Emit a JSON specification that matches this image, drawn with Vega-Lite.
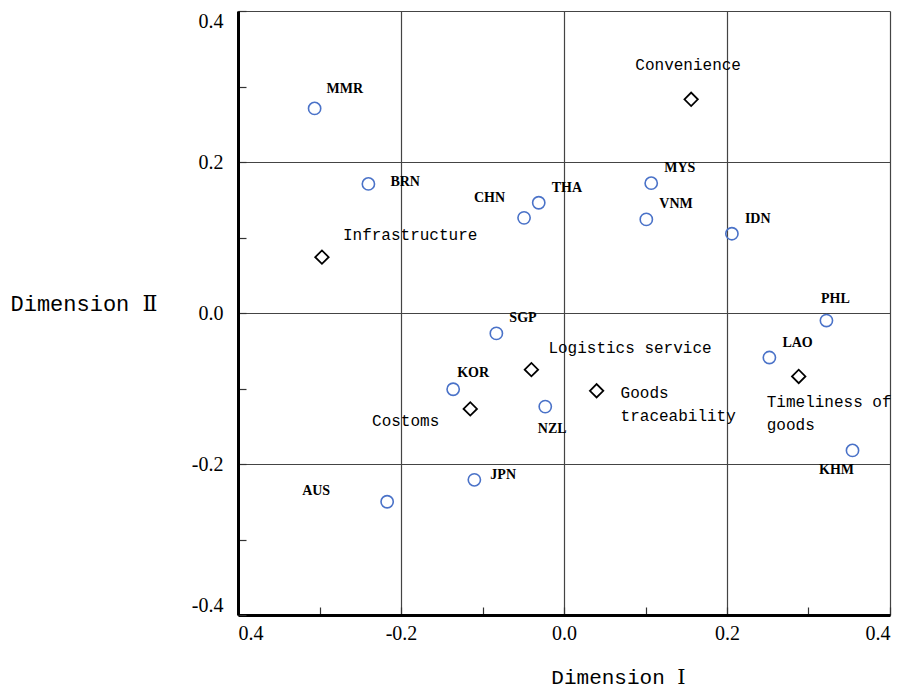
{
  "$schema": "https://vega.github.io/schema/vega-lite/v6.json",
  "width": 652,
  "height": 604,
  "autosize": {"type": "none"},
  "padding": {"left": 238, "top": 11, "right": 10, "bottom": 76},
  "background": "white",
  "config": {"view": {"stroke": null}},
  "data": {
    "values": [
      {"name": "MMR", "type": "country", "label": "MMR", "x": -0.306, "y": 0.271},
      {"name": "BRN", "type": "country", "label": "BRN", "x": -0.240, "y": 0.171},
      {"name": "CHN", "type": "country", "label": "CHN", "x": -0.049, "y": 0.126},
      {"name": "THA", "type": "country", "label": "THA", "x": -0.031, "y": 0.146},
      {"name": "MYS", "type": "country", "label": "MYS", "x": 0.107, "y": 0.172},
      {"name": "VNM", "type": "country", "label": "VNM", "x": 0.101, "y": 0.124},
      {"name": "IDN", "type": "country", "label": "IDN", "x": 0.206, "y": 0.105},
      {"name": "PHL", "type": "country", "label": "PHL", "x": 0.322, "y": -0.010},
      {"name": "LAO", "type": "country", "label": "LAO", "x": 0.252, "y": -0.059},
      {"name": "KHM", "type": "country", "label": "KHM", "x": 0.354, "y": -0.182},
      {"name": "SGP", "type": "country", "label": "SGP", "x": -0.083, "y": -0.027},
      {"name": "KOR", "type": "country", "label": "KOR", "x": -0.136, "y": -0.101},
      {"name": "NZL", "type": "country", "label": "NZL", "x": -0.023, "y": -0.124},
      {"name": "JPN", "type": "country", "label": "JPN", "x": -0.110, "y": -0.221},
      {"name": "AUS", "type": "country", "label": "AUS", "x": -0.217, "y": -0.250},
      {"name": "Convenience", "type": "factor", "label": "Convenience", "x": 0.156, "y": 0.283},
      {"name": "Infrastructure", "type": "factor", "label": "Infrastructure", "x": -0.297, "y": 0.074},
      {"name": "Logistics service", "type": "factor", "label": "Logistics service", "x": -0.040, "y": -0.075},
      {"name": "Costoms", "type": "factor", "label": "Costoms", "x": -0.115, "y": -0.127},
      {"name": "Goods traceability", "type": "factor", "label": "Goods\ntraceability", "x": 0.040, "y": -0.103},
      {"name": "Timeliness of goods", "type": "factor", "label": "Timeliness of\ngoods", "x": 0.288, "y": -0.084}
    ]
  },
  "encoding": {
    "x": {
      "field": "x", "type": "quantitative",
      "scale": {"domain": [-0.4, 0.4], "nice": false, "zero": false},
      "axis": {
        "values": [-0.4, -0.3, -0.2, -0.1, 0, 0.1, 0.2, 0.3, 0.4],
        "title": "Dimension Ⅰ",
        "titleFont": "Liberation Mono, DejaVu Serif, Noto Sans CJK SC",
        "titleFontSize": 21, "titleFontWeight": "normal", "titleColor": "black",
        "titleX": 380, "titleY": 68, "titleBaseline": "alphabetic", "titleAlign": "center",
        "labelExpr": "abs(round(datum.value*10)) % 2 == 1 ? '' : (datum.value < -0.35 ? '0.4' : (datum.value < -0.05 ? '-' + format(-datum.value, '.1f') : format(abs(datum.value), '.1f')))",
        "labelFont": "Liberation Serif", "labelFontSize": 20, "labelColor": "black",
        "labelPadding": 16, "labelFlush": true, "labelOverlap": false,
        "domain": true, "domainColor": "black", "domainWidth": 3,
        "ticks": true, "tickSize": -8, "tickColor": "#333", "tickWidth": 1.2,
        "grid": true, "gridColor": "#444", "gridWidth": 1.2,
        "gridOpacity": {"condition": {"test": "abs(round(datum.value*10)) % 2 == 1", "value": 0}, "value": 1}
      }
    },
    "y": {
      "field": "y", "type": "quantitative",
      "scale": {"domain": [-0.4, 0.4], "nice": false, "zero": false},
      "axis": {
        "values": [-0.4, -0.3, -0.2, -0.1, 0, 0.1, 0.2, 0.3, 0.4],
        "title": "Dimension Ⅱ",
        "titleFont": "Liberation Mono, DejaVu Serif, Noto Sans CJK SC",
        "titleFontSize": 22, "titleFontWeight": "normal", "titleColor": "black",
        "titleAngle": 0, "titleX": -228, "titleY": 292, "titleBaseline": "middle", "titleAlign": "left",
        "labelExpr": "abs(round(datum.value*10)) % 2 == 1 ? '' : (datum.value < -0.05 ? '-' + format(-datum.value, '.1f') : format(abs(datum.value), '.1f'))",
        "labelFont": "Liberation Serif", "labelFontSize": 20, "labelColor": "black",
        "labelPadding": 23, "labelFlush": true, "labelOverlap": false,
        "domain": true, "domainColor": "black", "domainWidth": 3,
        "ticks": true, "tickSize": -8, "tickColor": "#333", "tickWidth": 1.2,
        "grid": true, "gridColor": "#444", "gridWidth": 1.2,
        "gridOpacity": {"condition": {"test": "abs(round(datum.value*10)) % 2 == 1", "value": 0}, "value": 1}
      }
    }
  },
  "layer": [
    {
      "transform": [{"filter": "datum.type == 'country'"}],
      "mark": {"type": "point", "shape": "circle", "filled": false, "stroke": "#4A72C8", "strokeWidth": 1.6, "size": 150, "opacity": 1}
    },
    {
      "transform": [{"filter": "datum.type == 'factor'"}],
      "mark": {"type": "point", "shape": "diamond", "filled": false, "stroke": "black", "strokeWidth": 1.8, "size": 180, "opacity": 1}
    },
    {
      "transform": [{"filter": {"field": "name", "oneOf": ["THA", "MYS", "VNM", "IDN", "LAO", "SGP"]}}],
      "mark": {"type": "text", "align": "left", "baseline": "middle", "dx": 13, "dy": -15, "font": "Liberation Serif", "fontWeight": "bold", "fontSize": 14, "color": "black"},
      "encoding": {"text": {"field": "label"}}
    },
    {
      "transform": [{"filter": {"field": "name", "oneOf": ["MMR"]}}],
      "mark": {"type": "text", "align": "left", "baseline": "middle", "dx": 12, "dy": -19, "font": "Liberation Serif", "fontWeight": "bold", "fontSize": 14, "color": "black"},
      "encoding": {"text": {"field": "label"}}
    },
    {
      "transform": [{"filter": {"field": "name", "oneOf": ["BRN"]}}],
      "mark": {"type": "text", "align": "left", "baseline": "middle", "dx": 22, "dy": -2, "font": "Liberation Serif", "fontWeight": "bold", "fontSize": 14, "color": "black"},
      "encoding": {"text": {"field": "label"}}
    },
    {
      "transform": [{"filter": {"field": "name", "oneOf": ["CHN"]}}],
      "mark": {"type": "text", "align": "right", "baseline": "middle", "dx": -19, "dy": -20, "font": "Liberation Serif", "fontWeight": "bold", "fontSize": 14, "color": "black"},
      "encoding": {"text": {"field": "label"}}
    },
    {
      "transform": [{"filter": {"field": "name", "oneOf": ["PHL"]}}],
      "mark": {"type": "text", "align": "center", "baseline": "middle", "dx": 9, "dy": -22, "font": "Liberation Serif", "fontWeight": "bold", "fontSize": 14, "color": "black"},
      "encoding": {"text": {"field": "label"}}
    },
    {
      "transform": [{"filter": {"field": "name", "oneOf": ["KHM"]}}],
      "mark": {"type": "text", "align": "center", "baseline": "middle", "dx": -16, "dy": 20, "font": "Liberation Serif", "fontWeight": "bold", "fontSize": 14, "color": "black"},
      "encoding": {"text": {"field": "label"}}
    },
    {
      "transform": [{"filter": {"field": "name", "oneOf": ["KOR"]}}],
      "mark": {"type": "text", "align": "left", "baseline": "middle", "dx": 4, "dy": -16, "font": "Liberation Serif", "fontWeight": "bold", "fontSize": 14, "color": "black"},
      "encoding": {"text": {"field": "label"}}
    },
    {
      "transform": [{"filter": {"field": "name", "oneOf": ["NZL"]}}],
      "mark": {"type": "text", "align": "center", "baseline": "middle", "dx": 7, "dy": 22, "font": "Liberation Serif", "fontWeight": "bold", "fontSize": 14, "color": "black"},
      "encoding": {"text": {"field": "label"}}
    },
    {
      "transform": [{"filter": {"field": "name", "oneOf": ["JPN"]}}],
      "mark": {"type": "text", "align": "left", "baseline": "middle", "dx": 16, "dy": -5, "font": "Liberation Serif", "fontWeight": "bold", "fontSize": 14, "color": "black"},
      "encoding": {"text": {"field": "label"}}
    },
    {
      "transform": [{"filter": {"field": "name", "oneOf": ["AUS"]}}],
      "mark": {"type": "text", "align": "right", "baseline": "middle", "dx": -57, "dy": -11, "font": "Liberation Serif", "fontWeight": "bold", "fontSize": 14, "color": "black"},
      "encoding": {"text": {"field": "label"}}
    },
    {
      "transform": [{"filter": {"field": "name", "oneOf": ["Convenience"]}}],
      "mark": {"type": "text", "align": "center", "baseline": "middle", "dx": -3, "dy": -34, "font": "Liberation Mono", "fontSize": 16, "color": "black"},
      "encoding": {"text": {"field": "label"}}
    },
    {
      "transform": [{"filter": {"field": "name", "oneOf": ["Infrastructure"]}}],
      "mark": {"type": "text", "align": "left", "baseline": "middle", "dx": 21, "dy": -22, "font": "Liberation Mono", "fontSize": 16, "color": "black"},
      "encoding": {"text": {"field": "label"}}
    },
    {
      "transform": [{"filter": {"field": "name", "oneOf": ["Logistics service"]}}],
      "mark": {"type": "text", "align": "left", "baseline": "middle", "dx": 17, "dy": -22, "font": "Liberation Mono", "fontSize": 16, "color": "black"},
      "encoding": {"text": {"field": "label"}}
    },
    {
      "transform": [{"filter": {"field": "name", "oneOf": ["Costoms"]}}],
      "mark": {"type": "text", "align": "right", "baseline": "middle", "dx": -31, "dy": 12, "font": "Liberation Mono", "fontSize": 16, "color": "black"},
      "encoding": {"text": {"field": "label"}}
    },
    {
      "transform": [{"filter": {"field": "name", "oneOf": ["Goods traceability"]}}],
      "mark": {"type": "text", "align": "left", "baseline": "alphabetic", "dx": 24, "dy": 7, "lineBreak": "\n", "lineHeight": 23, "font": "Liberation Mono", "fontSize": 16, "color": "black"},
      "encoding": {"text": {"field": "label"}}
    },
    {
      "transform": [{"filter": {"field": "name", "oneOf": ["Timeliness of goods"]}}],
      "mark": {"type": "text", "align": "left", "baseline": "alphabetic", "dx": -32, "dy": 31, "lineBreak": "\n", "lineHeight": 23, "font": "Liberation Mono", "fontSize": 16, "color": "black"},
      "encoding": {"text": {"field": "label"}}
    }
  ]
}
